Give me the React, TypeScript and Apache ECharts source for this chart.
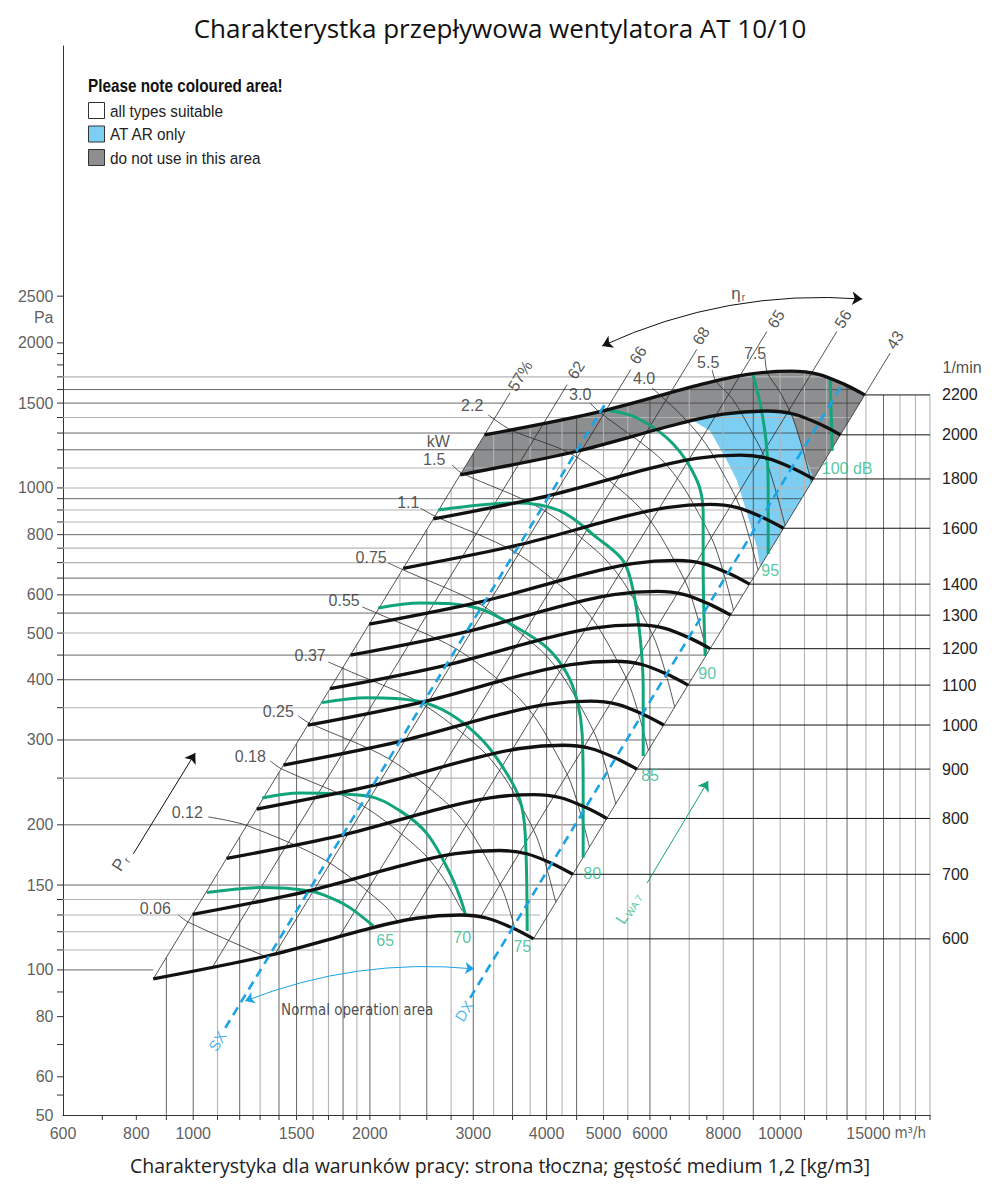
import React, { useEffect, useRef } from "react";
import * as echarts from "echarts";

const FONT = "'Liberation Sans', Arial, sans-serif";
const FONT_N = "'Liberation Sans Narrow', 'DejaVu Sans Condensed', sans-serif";
const FONT_T = "'Open Sans', 'Noto Sans', sans-serif";

const C_LINE = "#111111";
const C_THIN = "#2a2a2a";
const C_DARK = "#404040";
const C_LIGHT = "#b4b4b4";
const C_GREEN = "#12a57b";
const C_GREEN_T = "#2cb98b";
const C_BLUE = "#1ca3e6";
const C_FILL_GRAY = "#8d8e90";
const C_FILL_BLUE = "#7ccff2";

const TITLE = "Charakterystka przepływowa wentylatora AT 10/10";
const CAPTION = "Charakterystyka dla warunków pracy: strona tłoczna; gęstość medium 1,2 [kg/m3]";

// ---- fan curves per speed: [Q m³/h, Δp Pa] ----
const rpm600 = [[855, 95.8], [1340, 107], [2000, 122], [2400, 128], [2850, 130], [3170, 128], [3510, 122], [3800, 116]];
const rpm700 = [[998, 130.4], [1563, 145.6], [2333, 166.1], [2800, 174.2], [3325, 176.9], [3698, 174.2], [4095, 166.1], [4433, 157.9]];
const rpm800 = [[1140, 170.3], [1787, 190.2], [2667, 216.9], [3200, 227.6], [3800, 231.1], [4227, 227.6], [4680, 216.9], [5067, 206.2]];
const rpm900 = [[1283, 215.6], [2010, 240.8], [3000, 274.5], [3600, 288], [4275, 292.5], [4755, 288], [5265, 274.5], [5700, 261]];
const rpm1000 = [[1425, 266.1], [2233, 297.2], [3333, 338.9], [4000, 355.6], [4750, 361.1], [5283, 355.6], [5850, 338.9], [6333, 322.2]];
const rpm1100 = [[1568, 322], [2457, 359.6], [3667, 410.1], [4400, 430.2], [5225, 436.9], [5812, 430.2], [6435, 410.1], [6967, 389.9]];
const rpm1200 = [[1710, 383.2], [2680, 428], [4000, 488], [4800, 512], [5700, 520], [6340, 512], [7020, 488], [7600, 464]];
const rpm1300 = [[1853, 449.7], [2903, 502.3], [4333, 572.7], [5200, 600.9], [6175, 610.3], [6868, 600.9], [7605, 572.7], [8233, 544.6]];
const rpm1400 = [[1995, 521.6], [3127, 582.6], [4667, 664.2], [5600, 696.9], [6650, 707.8], [7397, 696.9], [8190, 664.2], [8867, 631.6]];
const rpm1600 = [[2280, 681.2], [3573, 760.9], [5333, 867.6], [6400, 910.2], [7600, 924.4], [8453, 910.2], [9360, 867.6], [10133, 824.9]];
const rpm1800 = [[2565, 862.2], [4020, 963], [6000, 1098], [7200, 1152], [8550, 1170], [9510, 1152], [10530, 1098], [11400, 1044]];
const rpm2000 = [[2850, 1064.4], [4467, 1188.9], [6667, 1355.6], [8000, 1422.2], [9500, 1444.4], [10567, 1422.2], [11700, 1355.6], [12667, 1288.9]];
const rpm2200 = [[3135, 1288], [4913, 1438.6], [7333, 1640.2], [8800, 1720.9], [10450, 1747.8], [11623, 1720.9], [12870, 1640.2], [13933, 1559.6]];
const RPM_NAMES = ["600", "700", "800", "900", "1000", "1100", "1200", "1300", "1400", "1600", "1800", "2000", "2200"];
const RPM_CURVES = [rpm600, rpm700, rpm800, rpm900, rpm1000, rpm1100, rpm1200, rpm1300, rpm1400, rpm1600, rpm1800, rpm2000, rpm2200];

// ---- shaft power lines (kW), first point = leader start near label ----
const pw006 = [[943, 130.1], [980, 125.7], [1325, 106.7]];
const pw012 = [[1061, 207.7], [1234, 199.4], [1682, 168.6], [2114, 136.3], [2234, 125.5]];
const pw018 = [[1353, 271.4], [1413, 261.4], [1925, 220.8], [2420, 178.6], [2654, 156.5], [2875, 132.3]];
const pw025 = [[1510, 336.5], [1576, 325.4], [2147, 274.8], [2700, 222.3], [2961, 194.9], [3208, 164.7], [3377, 145.2], [3525, 123]];
const pw037 = [[1698, 435.5], [1796, 422.7], [2448, 357.1], [3077, 288.8], [3374, 253], [3656, 213.9], [3848, 188.6], [4018, 159.8], [4147, 138.1]];
const pw055 = [[1941, 566.3], [2050, 550.6], [2794, 465], [3512, 376.1], [3851, 329.6], [4172, 278.6], [4392, 245.7], [4585, 208.2], [4733, 179.9]];
const pw075 = [[2149, 698.9], [2273, 677.1], [3097, 571.7], [3894, 462.5], [4270, 405.2], [4627, 342.6], [4870, 302.1], [5084, 255.9], [5248, 221.2]];
const pw110 = [[2436, 908.8], [2582, 874], [3520, 738.1], [4424, 597], [4852, 523.1], [5256, 442.1], [5534, 390], [5776, 330.4], [5963, 285.6]];
const pw150 = [[2762, 1116], [2864, 1074.7], [3903, 907.6], [4906, 734.2], [5381, 643.4], [5829, 543.8], [6136, 479.6], [6406, 406.3], [6612, 351.2]];
const pw220 = [[3181, 1418], [3471, 1321], [4434, 1171.7], [5574, 947.8], [6113, 830.4], [6623, 702], [6972, 619.1], [7278, 524.5], [7512, 453.3]];
const pw300 = [[4746, 1501], [4913, 1438.6], [6182, 1165.5], [6779, 1021.2], [7344, 863.3], [7731, 761.3], [8071, 645], [8330, 557.5]];
const pw400 = [[6051, 1612], [6804, 1411.8], [7461, 1237.2], [8083, 1045.7], [8510, 922.4], [8883, 781.3], [9169, 675.3]];
const pw550 = [[7660, 1757], [7770, 1665], [8296, 1529.5], [8988, 1293], [9462, 1140.4], [9878, 966.1], [10196, 835.2]];
const pw750 = [[9427, 1861], [9509, 1733], [9967, 1590], [10493, 1402.5], [10954, 1188.2], [11306, 1026.9]];
const POWER_LINES = [pw006, pw012, pw018, pw025, pw037, pw055, pw075, pw110, pw150, pw220, pw300, pw400, pw550, pw750];
const POWER_LABELS = [
  ["0.06", 861.6, 133.8], ["0.12", 977, 211.7], ["0.18", 1251, 276.6], ["0.25", 1396, 343],
  ["0.37", 1582, 448.3], ["0.55", 1808, 583], ["0.75", 2010, 715.8], ["1.1", 2325, 931],
  ["1.5", 2574, 1143], ["kW", 2615, 1246], ["2.2", 2988, 1480], ["3.0", 4563, 1560],
  ["4.0", 5865, 1683], ["5.5", 7540, 1817], ["7.5", 9065, 1905],
];

// ---- efficiency (system) lines ----
const EFF_NAMES = ["57%", "62", "66", "68", "65", "56", "43"];
const EFF_BOTTOM = [[855, 95.8], [1079, 101.5], [1379, 108], [1774, 117.3], [2328, 127], [3082, 128.5], [3800, 116]];
const EFF_TOP = [[3467, 1576], [4336, 1638], [5568, 1762], [7213, 1939], [9491, 2111], [12492, 2112], [15393, 1904]];
const EFF_LABEL_POS = [[3607, 1708], [4492, 1757], [5729, 1887], [7333, 2068], [9844, 2242], [12802, 2242], [15700, 2028]];

// ---- sound power lines L_WA7 (dB) ----
const g65 = [[1055, 144.7], [1300, 148.2], [1582, 145.8], [1732, 140.4], [1851, 134.5], [2026, 123.4]];
const g70 = [[1311, 227.4], [1521, 232.9], [1979, 229.6], [2252, 213.8], [2504, 191.5], [2741, 158.2], [2850, 141.1], [2906, 130.7]];
const g75 = [[1657, 358.6], [1977, 367.2], [2405, 361.4], [2741, 339.7], [3119, 298.6], [3426, 255], [3607, 224.2], [3678, 191.5], [3707, 120.4]];
const g80 = [[2067, 563.6], [2436, 577.4], [3046, 563.6], [3565, 512.4], [4010, 465.6], [4336, 411.3], [4510, 361.4], [4599, 308.8], [4617, 235.2], [4617, 170.8]];
const g85 = [[2615, 900.4], [3083, 922], [3565, 931], [4219, 896], [4878, 787.6], [5402, 705.8], [5619, 611.4], [5775, 488.5], [5843, 384.7], [5843, 277.9]];
const g90 = [[5033, 1451], [5706, 1397], [6572, 1234], [7221, 1034], [7393, 883.4], [7393, 695.7], [7451, 448.4]];
const g95 = [[8995, 1716], [9318, 1424], [9504, 1177], [9542, 953.5], [9542, 729.7]];
const g100 = [[12168, 1691], [12265, 1194]];
const SOUND_LINES = [g65, g70, g75, g80, g85, g90, g95, g100];
const SOUND_NAMES = ["65", "70", "75", "80", "85", "90", "95", "100 dB"];
const SOUND_LABEL_POS = [[2124, 114.9], [2873, 116.5], [3636, 112.1], [4783, 158.2], [6003, 252.6], [7509, 411.3], [9616, 672.7], [13003, 1095]];

// ---- operating range lines and arrows ----
const SX_LINE = [[1134, 75.8], [5027, 1490]];
const DX_LINE = [[2964, 87.5], [12800, 1650]];
const NORMAL_ARC = [[1226, 86.2], [3011, 100.5]];
const ETA_ARC = [[4975, 1971], [13796, 2466]];
const PR_ARROW = [[790.5, 174.1], [1008, 281.9]];
const LWA_ARROW = [[5934, 151.5], [7540, 246.7]];

// ---- coloured areas ----
const AREA_GRAY_BAND = [
  [3135, 1288], [4913, 1438.6], [7333, 1640.2], [8800, 1720.9], [10450, 1747.8], [11623, 1720.9], [12870, 1640.2], [13933, 1559.6],
  [12667, 1288.9], [11700, 1355.6], [10567, 1422.2], [9500, 1444.4], [8000, 1422.2], [6667, 1355.6], [4467, 1188.9], [2850, 1064.4],
];
const AREA_GRAY_RIGHT = [[10430, 1424], [10567, 1422.2], [11700, 1355.6], [12667, 1288.9], [11400, 1044], [10954, 1188.2], [10493, 1402.5]];
const AREA_BLUE = [
  [7108, 1378], [8000, 1422.2], [9500, 1444.4], [10430, 1424], [10493, 1402.5], [10954, 1188.2], [11400, 1044],
  [9239, 686], [9138, 750.9], [8786, 883.4], [8447, 1034], [8123, 1138], [7600, 1313],
];

// ---- grid: [Δp, Q end, dark], [Q, Δp top, dark] ----
const H_GRID = [
  [100, 855, 1], [110, 1650, 0], [120, 3510, 0], [130, 3900, 0], [140, 4175, 0], [150, 4321, 1], [200, 4990, 1], [250, 5579, 0],
  [300, 6111, 1], [350, 6601, 0], [400, 7057, 1], [450, 7484, 1], [500, 7889, 0], [550, 8274, 1], [600, 8642, 1], [650, 8995, 1],
  [700, 9335, 0], [750, 9662, 0], [800, 9979, 1], [850, 10286, 0], [900, 10585, 0], [950, 10875, 1], [1000, 11157, 0],
  [1100, 11702, 0], [1200, 12222, 1], [1300, 12721, 1], [1400, 13201, 0], [1500, 13665, 1], [1600, 13400, 1], [1700, 11950, 0],
];
const V_GRID = [
  [900, 106.1, 1], [1000, 131, 1], [1100, 158.6, 0], [1200, 188.7, 1], [1300, 221.5, 0], [1400, 256.9, 1], [1500, 294.9, 1],
  [1600, 335.5, 0], [1700, 378.7, 0], [1800, 424.6, 1], [1900, 473.1, 0], [2000, 524.2, 1], [2250, 663.4, 0], [2500, 819, 1],
  [2750, 991.1, 0], [3000, 1179.4, 1], [3250, 1299.5, 0], [3500, 1323, 1], [3750, 1346, 0], [4000, 1367.6, 1], [4250, 1388.3, 0],
  [4500, 1407.8, 1], [5000, 1446.9, 0], [5500, 1492.7, 0], [6000, 1536, 1], [7000, 1615.3, 0], [8000, 1678.3, 0], [9000, 1724.4, 1],
  [10000, 1740.8, 0], [11000, 1734.7, 0], [12000, 1695.2, 0], [13000, 1629.8, 1], [14000, 1559.6, 0], [15000, 1559.6, 1],
  [16000, 1559.6, 0], [17000, 1559.6, 0], [18000, 1559.6, 0],
];
const X_TICKS = [700, 800, 900, 1000, 1100, 1200, 1300, 1400, 1500, 1600, 1700, 1800, 1900, 2000, 2250, 2500, 2750, 3000, 3500, 4000,
  4500, 5000, 5500, 6000, 6500, 7000, 7500, 8000, 9000, 10000, 11000, 12000, 13000, 14000, 15000, 16000, 17000, 18000];
const Y_TICKS = [55, 60, 70, 80, 90, 100, 110, 120, 130, 140, 150, 200, 250, 300, 350, 400, 450, 500, 550, 600, 650, 700, 750, 800,
  850, 900, 950, 1000, 1100, 1200, 1300, 1400, 1500, 1600, 1700, 1800, 1900, 2000, 2500];
const X_LABELS = [600, 800, 1000, 1500, 2000, 3000, 4000, 5000, 6000, 8000, 10000, 15000];
const Y_LABELS = [50, 60, 80, 100, 150, 200, 300, 400, 500, 600, 800, 1000, 1500, 2000, 2500];

const LEGEND_TITLE = "Please note coloured area!";
const LEGEND_ITEMS = [
  ["all types suitable", "#ffffff"],
  ["AT AR only", C_FILL_BLUE],
  ["do not use in this area", C_FILL_GRAY],
];

const lineBase: any = { type: "line", showSymbol: false, symbol: "none", silent: true, clip: false, animation: false };

function textSeries(items: any[], label: any, z = 30) {
  return {
    type: "scatter", silent: true, clip: false, symbol: "circle", symbolSize: 1, z,
    itemStyle: { color: "rgba(0,0,0,0)" },
    label: { show: true, position: "inside", fontFamily: FONT, fontSize: 16, color: "#2a2a2a", ...label },
    data: items.map((it: any) => ({ value: [it[1], it[2]], label: { formatter: it[0], ...(it[3] || {}) } })),
  };
}

function segRender(params: any, api: any) {
  const a = api.coord([api.value(0), api.value(1)]);
  const b = api.coord([api.value(2), api.value(3)]);
  const dark = api.value(4) === 1;
  return {
    type: "line",
    shape: { x1: a[0], y1: a[1], x2: b[0], y2: b[1] },
    style: { stroke: dark ? C_DARK : C_LIGHT, lineWidth: dark ? 0.8 : 1.1 },
  };
}

export default function App() {
  const ref = useRef<HTMLDivElement>(null);
  useEffect(() => {
    document.body.style.margin = "0";
    if (!ref.current) return;
    const chart = echarts.init(ref.current, null, { renderer: "svg" });
    const FILLS = [
      { pts: AREA_BLUE, color: C_FILL_BLUE },
      { pts: AREA_GRAY_BAND, color: C_FILL_GRAY },
      { pts: AREA_GRAY_RIGHT, color: C_FILL_GRAY },
    ];
    const series: any[] = [];
    series.push({
      type: "custom", silent: true, z: 1, encode: { x: 0, y: 1 },
      data: FILLS.map((f, i) => [f.pts[0][0], f.pts[0][1], i]),
      renderItem: (params: any, api: any) => {
        const f = FILLS[params.dataIndex];
        return { type: "polygon", shape: { points: f.pts.map((p) => api.coord(p)) }, style: { fill: f.color } };
      },
    });
    series.push({
      type: "custom", silent: true, z: 2, encode: { x: 0, y: 1 },
      data: [
        ...H_GRID.map(([p, q, d]) => [600, p, q, p, d]),
        ...V_GRID.map(([q, t, d]) => [q, 50, q, t, d]),
      ],
      renderItem: segRender,
    });
    series.push({
      type: "custom", silent: true, z: 2, encode: { x: 0, y: 1 },
      data: [...X_TICKS.map((q) => [q, 50, 0]), ...Y_TICKS.map((p) => [600, p, 1])],
      renderItem: (params: any, api: any) => {
        const pt = api.coord([api.value(0), api.value(1)]);
        const isY = api.value(2) === 1;
        return {
          type: "line",
          shape: isY ? { x1: pt[0] - 6, y1: pt[1], x2: pt[0], y2: pt[1] } : { x1: pt[0], y1: pt[1], x2: pt[0], y2: pt[1] + 5 },
          style: { stroke: "#333", lineWidth: 1 },
        };
      },
    });
    EFF_NAMES.forEach((n, i) => {
      series.push({ ...lineBase, z: 3, data: [EFF_BOTTOM[i], EFF_TOP[i]], lineStyle: { color: C_THIN, width: 0.8 } });
    });
    POWER_LINES.forEach((pl) => {
      series.push({ ...lineBase, z: 3, smooth: 0.3, data: pl, lineStyle: { color: C_THIN, width: 0.8 } });
    });
    SOUND_LINES.forEach((g) => {
      series.push({ ...lineBase, z: 4, smooth: 0.35, data: g, lineStyle: { color: C_GREEN, width: 3 } });
    });
    RPM_CURVES.forEach((c, i) => {
      series.push({ ...lineBase, z: 5, smooth: 0.3, data: c, lineStyle: { color: C_LINE, width: 3.3 } });
      const end = c[c.length - 1];
      series.push({
        ...lineBase, z: 3, data: [end, [18000, end[1]]], lineStyle: { color: C_LINE, width: 1 },
        endLabel: { show: true, formatter: RPM_NAMES[i], distance: 12, fontFamily: FONT, fontSize: 16, color: "#222" },
      });
    });
    [SX_LINE, DX_LINE].forEach((l) => {
      series.push({ ...lineBase, z: 6, data: l, lineStyle: { color: C_BLUE, width: 2.6, type: [9, 6] } });
    });
    series.push({
      type: "lines", coordinateSystem: "cartesian2d", silent: true, z: 6, symbol: ["arrow", "arrow"], symbolSize: 9,
      lineStyle: { color: C_BLUE, width: 1, curveness: 0.12, opacity: 1 }, data: [{ coords: NORMAL_ARC }],
    });
    series.push({
      type: "lines", coordinateSystem: "cartesian2d", silent: true, z: 6, symbol: ["arrow", "arrow"], symbolSize: 10,
      lineStyle: { color: "#111", width: 1, curveness: 0.13, opacity: 1 }, data: [{ coords: ETA_ARC }],
    });
    series.push({
      type: "lines", coordinateSystem: "cartesian2d", silent: true, z: 6, symbol: ["none", "arrow"], symbolSize: 10,
      lineStyle: { color: "#111", width: 1, opacity: 1 }, data: [{ coords: PR_ARROW }],
    });
    series.push({
      type: "lines", coordinateSystem: "cartesian2d", silent: true, z: 6, symbol: ["none", "arrow"], symbolSize: 10,
      lineStyle: { color: C_GREEN, width: 1, opacity: 1 }, data: [{ coords: LWA_ARROW }],
    });
    series.push(textSeries(POWER_LABELS, {}));
    series.push(textSeries(EFF_NAMES.map((n, i) => [n, EFF_LABEL_POS[i][0], EFF_LABEL_POS[i][1]]), { rotate: 58 }));
    series.push(textSeries(SOUND_NAMES.map((n, i) => [n, SOUND_LABEL_POS[i][0], SOUND_LABEL_POS[i][1]]), { color: C_GREEN_T }));
    series.push(textSeries([
      ["Normal operation area", 1903, 82.6, { fontFamily: FONT_N, fontSize: 15, color: "#222" }],
      ["SX", 1099, 71.2, { rotate: 58, color: C_BLUE, fontSize: 15 }],
      ["DX", 2895, 82.2, { rotate: 58, color: C_BLUE, fontSize: 15 }],
      ["P{s|r}", 751, 166.7, { rotate: 58, fontSize: 17, rich: { s: { fontSize: 10, fontFamily: FONT, color: "#2a2a2a", padding: [8, 0, 0, 1] } } }],
      ["L{s|WA 7}", 5510, 134.5, { rotate: 58, color: C_GREEN_T, fontSize: 16, rich: { s: { fontSize: 10, fontFamily: FONT, color: C_GREEN_T, padding: [8, 0, 0, 1] } } }],
      ["η{s|r}", 8482, 2526, { fontSize: 17, rich: { s: { fontSize: 10, fontFamily: FONT, color: "#2a2a2a", padding: [8, 0, 0, 1] } } }],
    ], {}));
    series.push(textSeries(Y_LABELS.map((p) => [String(p), 600, p]), { position: "left", distance: 9, color: "#333" }));
    series.push(textSeries([["Pa", 600, 2253]], { position: "left", distance: 9, color: "#333" }));
    series.push(textSeries(X_LABELS.map((q) => [String(q), q, 50, q === 15000 ? { offset: [-15, 0] } : {}]), { position: "bottom", distance: 10, color: "#333" }));
    series.push(textSeries([["m³/h", 16660, 50]], { position: "bottom", distance: 10, color: "#333", fontFamily: FONT_N, fontSize: 15 }));
    series.push(textSeries([["1/min", 18000, 1782]], { position: "right", distance: 12, color: "#222" }));

    const graphic: any[] = [
      { type: "text", x: 88, y: 86, scaleX: 0.85, style: { text: LEGEND_TITLE, fontFamily: FONT, fontSize: 18, fontWeight: "bold", fill: "#111", verticalAlign: "middle" } },
    ];
    LEGEND_ITEMS.forEach(([t, c], i) => {
      const y = 102 + i * 23.5;
      graphic.push({ type: "rect", shape: { x: 88.5, y: y + 0.5, width: 16, height: 16 }, style: { fill: c, stroke: "#333", lineWidth: 1 } });
      graphic.push({ type: "text", x: 110, y: y + 8.5, scaleX: 0.9, style: { text: t, fontFamily: FONT, fontSize: 17, fill: "#222", verticalAlign: "middle" } });
    });

    chart.setOption({
      animation: false,
      backgroundColor: "#ffffff",
      title: [
        { text: TITLE, left: "center", top: 10, textStyle: { fontFamily: FONT_T, fontSize: 26, fontWeight: "normal", color: "#111" } },
        { text: CAPTION, left: "center", top: 1150, textStyle: { fontFamily: FONT_T, fontSize: 19.5, fontWeight: "normal", color: "#222" } },
      ],
      grid: { left: 63, right: 70, top: 46, bottom: 80, containLabel: false },
      xAxis: {
        type: "log", logBase: 10, min: 600, max: 18000,
        axisLine: { show: true, lineStyle: { color: "#333", width: 1 } },
        axisTick: { show: false }, axisLabel: { show: false }, splitLine: { show: false }, minorTick: { show: false },
      },
      yAxis: {
        type: "log", logBase: 10, min: 50, max: 8260,
        axisLine: { show: true, lineStyle: { color: "#333", width: 1 } },
        axisTick: { show: false }, axisLabel: { show: false }, splitLine: { show: false }, minorTick: { show: false },
      },
      graphic,
      series,
    });
    return () => chart.dispose();
  }, []);
  return <div ref={ref} style={{ width: 1000, height: 1195 }} />;
}
